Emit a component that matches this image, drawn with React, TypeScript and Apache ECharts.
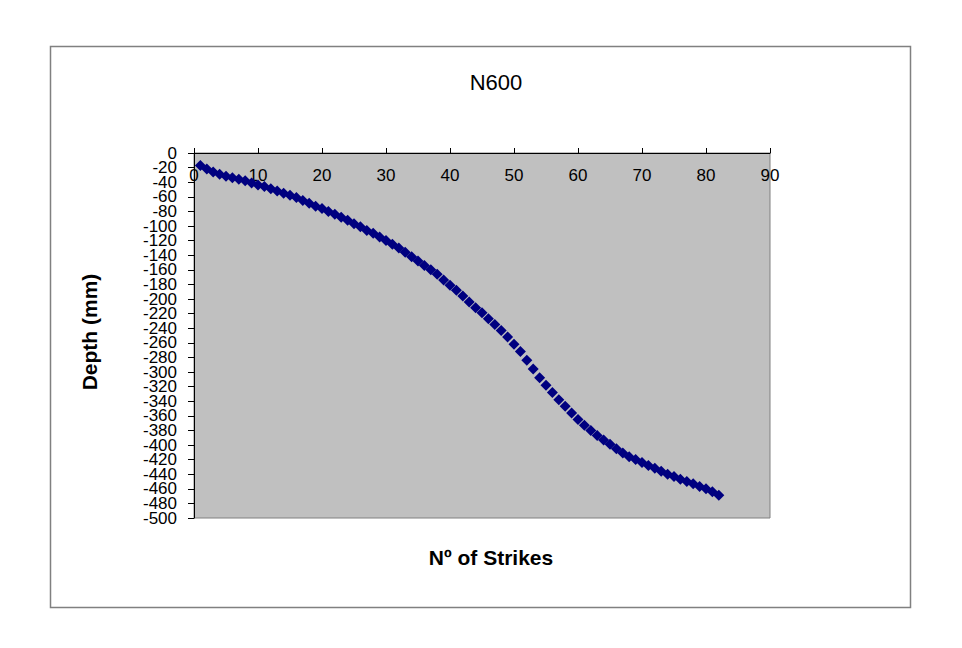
import React, { useEffect, useRef } from "react";
import * as echarts from "echarts";

const strikes: number[] = [
  1, 2, 3, 4, 5, 6, 7, 8, 9, 10, 11, 12, 13, 14, 15, 16, 17, 18, 19, 20,
  21, 22, 23, 24, 25, 26, 27, 28, 29, 30, 31, 32, 33, 34, 35, 36, 37, 38, 39, 40,
  41, 42, 43, 44, 45, 46, 47, 48, 49, 50, 51, 52, 53, 54, 55, 56, 57, 58, 59, 60,
  61, 62, 63, 64, 65, 66, 67, 68, 69, 70, 71, 72, 73, 74, 75, 76, 77, 78, 79, 80,
  81, 82,
];

const depths: number[] = [
  -17, -22, -26, -29, -32, -34, -36, -38, -41, -44,
  -46, -49, -52, -55, -58, -61, -65, -69, -73, -76,
  -80, -84, -88, -92, -97, -101, -106, -110, -115, -120,
  -125, -130, -136, -142, -148, -154, -160, -166, -174, -181,
  -188, -196, -204, -212, -219, -227, -235, -243, -252, -262,
  -272, -284, -296, -308, -318, -328, -338, -347, -356, -365,
  -373, -380, -387, -393, -399, -405, -411, -416, -420, -424,
  -428, -432, -436, -440, -443, -447, -450, -453, -457, -460,
  -464, -469,
];

const chartTitle = "N600";
const xName = "Nº of Strikes";
const yName = "Depth (mm)";

export default function App() {
  const ref = useRef<HTMLDivElement>(null);

  useEffect(() => {
    if (!ref.current) return;
    const chart = echarts.init(ref.current, undefined, { renderer: "svg" });
    const data = strikes.map((s, i) => [s, depths[i]]);
    const font = "Arial, 'Liberation Sans', sans-serif";
    const yLabelBase = {
      margin: 17,
      color: "#000",
      fontSize: 17,
      fontFamily: font,
      showMinLabel: true,
      showMaxLabel: true,
    };
    chart.setOption({
      animation: false,
      backgroundColor: "#ffffff",
      grid: {
        left: 194,
        top: 153,
        width: 576,
        height: 365,
        show: true,
        backgroundColor: "#c0c0c0",
        borderColor: "#808080",
        borderWidth: 1,
      },
      xAxis: {
        type: "value",
        position: "top",
        min: 0,
        max: 90,
        interval: 10,
        splitLine: { show: false },
        axisLine: { show: true, onZero: false, lineStyle: { color: "#000", width: 1 } },
        axisTick: { show: true, inside: false, length: 5, lineStyle: { color: "#000" } },
        axisLabel: {
          inside: true,
          margin: 14,
          color: "#000",
          fontSize: 17,
          fontFamily: font,
        },
      },
      yAxis: [
        {
          type: "value",
          position: "left",
          min: -500,
          max: 0,
          interval: 20,
          splitLine: { show: false },
          axisLine: { show: true, onZero: false, lineStyle: { color: "#000", width: 1 } },
          axisTick: { show: true, inside: false, length: 6, lineStyle: { color: "#000" } },
          axisLabel: {
            ...yLabelBase,
            formatter: (v: number) => (Math.round(v / 20) % 2 === 0 ? String(v) : ""),
          },
        },
        {
          type: "value",
          position: "left",
          offset: 0,
          min: -500,
          max: 0,
          interval: 20,
          splitLine: { show: false },
          axisLine: { show: false },
          axisTick: { show: false },
          axisLabel: {
            ...yLabelBase,
            formatter: (v: number) => (Math.round(v / 20) % 2 !== 0 ? String(v) : ""),
          },
        },
      ],
      graphic: [
        {
          type: "rect",
          silent: true,
          z: -10,
          shape: { x: 50.5, y: 46.5, width: 860, height: 561 },
          style: { fill: "none", stroke: "#808080", lineWidth: 1.5 },
        },
        {
          type: "text",
          x: 496,
          y: 82,
          style: {
            text: chartTitle,
            align: "center",
            verticalAlign: "middle",
            fontSize: 22,
            fontFamily: font,
            fill: "#000",
          },
        },
        {
          type: "text",
          x: 491,
          y: 557,
          style: {
            text: xName,
            align: "center",
            verticalAlign: "middle",
            fontSize: 21,
            fontWeight: "bold",
            fontFamily: font,
            fill: "#000",
          },
        },
        {
          type: "text",
          x: 89,
          y: 332,
          rotation: Math.PI / 2,
          style: {
            text: yName,
            align: "center",
            verticalAlign: "middle",
            fontSize: 21,
            fontWeight: "bold",
            fontFamily: font,
            fill: "#000",
          },
        },
      ],
      series: [
        {
          type: "scatter",
          data,
          yAxisIndex: 0,
          symbol: "diamond",
          symbolSize: 11,
          itemStyle: { color: "#000080", opacity: 1 },
        },
      ],
    });
    return () => chart.dispose();
  }, []);

  return (
    <div
      ref={ref}
      style={{ position: "fixed", left: 0, top: 0, width: 962, height: 648 }}
    />
  );
}
